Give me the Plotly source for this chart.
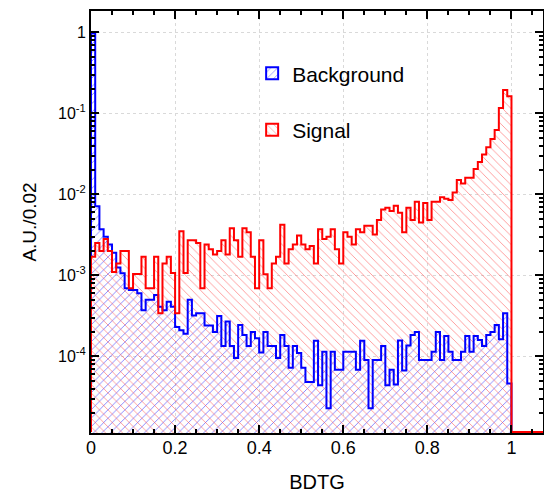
import numpy as np
import plotly.graph_objects as go

# ---------------- data ----------------
bin_edges = np.round(np.linspace(0.0, 1.0, 101), 4)
bin_centers = (bin_edges[:-1] + bin_edges[1:]) / 2
bin_width = 0.01

background = [
    0.97, 0.0071, 0.0037, 0.0030, 0.0024, 0.0019, 0.00125, 0.00106, 0.00069, 0.00066,
    0.00066, 0.00060, 0.00037, 0.00050, 0.00050, 0.00057, 0.00041, 0.00037, 0.00047, 0.00041,
    0.00023, 0.00021, 0.00019, 0.00050, 0.00032, 0.00034, 0.00034, 0.00024, 0.00024, 0.00020,
    0.000315, 0.000134, 0.000268, 0.000134, 0.000095, 0.000243, 0.000183, 0.000134, 0.00020, 0.000167,
    0.000111, 0.00020, 0.000134, 0.000134, 0.000095, 0.000183, 0.000134, 0.000072, 0.000134, 0.00011,
    0.000072, 0.000048, 0.000048, 0.000156, 0.000044, 0.000114, 0.0000228, 0.000114, 0.000068, 0.000068,
    0.000114, 0.000114, 0.000114, 0.000068, 0.000156, 0.00009, 0.0000228, 0.00009, 0.00009, 0.000134,
    0.000044, 0.000068, 0.000045, 0.000157, 0.000067, 0.000136, 0.000183, 0.00020, 0.00009, 0.00009,
    0.00009, 0.000114, 0.00020, 0.00009, 0.000178, 0.000114, 0.00009, 0.00009, 0.000114, 0.000178,
    0.000114, 0.000178, 0.000159, 0.000134, 0.000183, 0.00020, 0.000243, 0.000162, 0.000339, 0.000046,
]

signal = [
    0.0017, 0.0025, 0.0020, 0.0028, 0.0020, 0.0011, 0.0014, 0.0020, 0.0020, 0.00069,
    0.00104, 0.00104, 0.0017, 0.00069, 0.00069, 0.0017, 0.00034, 0.0014, 0.0017, 0.00107,
    0.00034, 0.0035, 0.00107, 0.0027, 0.0027, 0.0025, 0.00069, 0.0024, 0.0021, 0.0018,
    0.0020, 0.0027, 0.0018, 0.0038, 0.0027, 0.0017, 0.0038, 0.0034, 0.0017, 0.00069,
    0.0027, 0.00103, 0.00069, 0.0014, 0.0017, 0.0042, 0.0014, 0.0021, 0.0024, 0.0031,
    0.0024, 0.0021, 0.0023, 0.0014, 0.0037, 0.0028, 0.0030, 0.0037, 0.0021, 0.0014,
    0.0034, 0.0030, 0.0024, 0.0037, 0.0034, 0.0041, 0.0041, 0.0032, 0.0048, 0.0065,
    0.0068, 0.0062, 0.0072, 0.0059, 0.0034, 0.0068, 0.0048, 0.0081, 0.0045, 0.0078,
    0.0048, 0.0081, 0.0081, 0.0092, 0.0088, 0.0085, 0.0105, 0.0150, 0.0136, 0.0160,
    0.0160, 0.0205, 0.025, 0.031, 0.038, 0.048, 0.062, 0.116, 0.194, 0.162,
]

series_names = ["Background", "Signal"]

x_tick_vals = [0, 0.2, 0.4, 0.6, 0.8, 1.0]
x_tick_text = ["0", "0.2", "0.4", "0.6", "0.8", "1"]
y_tick_vals = [1e-4, 1e-3, 1e-2, 1e-1, 1]
y_tick_text = ["10<sup>-4</sup>", "10<sup>-3</sup>", "10<sup>-2</sup>", "10<sup>-1</sup>", "1"]

x_range = [0.0, 1.075]
y_range_log = [-4.947, 0.263]

# ---------------- helpers ----------------
floor_val = 10 ** (y_range_log[0] + 0.012)


def step_outline(values, extend_to=None):
    xs = [bin_edges[0]] + list(bin_edges[:-1]) + [bin_edges[-1]]
    ys = [floor_val] + list(values) + [floor_val]
    if extend_to is not None:
        xs.append(extend_to)
        ys.append(floor_val)
    return xs, ys


BLUE = "#0000ff"
RED = "#ff0000"
blue_pattern = dict(shape="/", fgcolor="rgba(60,60,255,0.7)", bgcolor="rgba(0,0,0,0)",
                    size=6, solidity=0.14, fillmode="replace")
red_pattern = dict(shape="\\", fgcolor="rgba(255,80,80,0.65)", bgcolor="rgba(0,0,0,0)",
                   size=6, solidity=0.14, fillmode="replace")

fig = go.Figure()

# filled (hatched) histograms
fig.add_trace(go.Bar(x=bin_centers, y=background, width=bin_width,
                     marker=dict(color=BLUE, line=dict(width=0), pattern=blue_pattern),
                     showlegend=False, hoverinfo="skip"))
fig.add_trace(go.Bar(x=bin_centers, y=signal, width=bin_width,
                     marker=dict(color=RED, line=dict(width=0), pattern=red_pattern),
                     showlegend=False, hoverinfo="skip"))

# step outlines
bx, by = step_outline(background)
fig.add_trace(go.Scatter(x=bx, y=by, mode="lines", line=dict(color=BLUE, width=2, shape="hv"),
                         showlegend=False, hoverinfo="skip"))
sx, sy = step_outline(signal, extend_to=x_range[1])
fig.add_trace(go.Scatter(x=sx, y=sy, mode="lines", line=dict(color=RED, width=2, shape="hv"),
                         showlegend=False, hoverinfo="skip"))

# legend entries
fig.add_trace(go.Bar(x=[None], y=[None], name=series_names[0], legendgroup="bkg",
                     marker=dict(color=BLUE, line=dict(color=BLUE, width=2), pattern=blue_pattern)))
fig.add_trace(go.Bar(x=[None], y=[None], name=series_names[1], legendgroup="sig",
                     marker=dict(color=RED, line=dict(color=RED, width=2), pattern=red_pattern)))

font_family = "Liberation Sans, Arial, Helvetica, sans-serif"

fig.update_layout(
    width=544, height=493,
    margin=dict(l=91, r=1, t=11, b=60),
    plot_bgcolor="white", paper_bgcolor="white",
    barmode="overlay", bargap=0,
    font=dict(family=font_family, size=16, color="black"),
    legend=dict(x=0.3565, y=0.90, xanchor="left", yanchor="top",
                bgcolor="rgba(0,0,0,0)", font=dict(size=21),
                traceorder="grouped", tracegroupgap=26, itemwidth=30),
)

minor_y = [m * 10.0 ** e for e in range(-5, 1) for m in range(2, 10)]

fig.update_xaxes(
    range=x_range, tickvals=x_tick_vals, ticktext=x_tick_text,
    ticks="inside", ticklen=8, tickwidth=1.5, tickcolor="black",
    showline=True, linewidth=2, linecolor="black", mirror="allticks",
    showgrid=True, gridcolor="#d9d9d9", griddash="dot", gridwidth=1,
    zeroline=False, automargin=False,
    minor=dict(dtick=0.05, tick0=0, ticks="inside", ticklen=4, tickcolor="black", showgrid=False),
    title=dict(text="BDTG", font=dict(size=20), standoff=19),
    tickfont=dict(size=18), ticklabelstandoff=-3,
)
fig.update_yaxes(
    type="log", range=y_range_log, tickvals=y_tick_vals, ticktext=y_tick_text,
    ticks="inside", ticklen=8, tickwidth=1.5, tickcolor="black",
    showline=True, linewidth=2, linecolor="black", mirror="allticks",
    showgrid=True, gridcolor="#d9d9d9", griddash="dot", gridwidth=1,
    zeroline=False, automargin=False,
    minor=dict(tickvals=minor_y, ticks="inside", ticklen=4, tickcolor="black", showgrid=False),
    title=dict(text="A.U./0.02", font=dict(size=19), standoff=16),
    tickfont=dict(size=16), ticklabelstandoff=0,
)

fig.write_html("out.html", config={"displayModeBar": False},
               post_script="document.body.style.margin='0px';")
